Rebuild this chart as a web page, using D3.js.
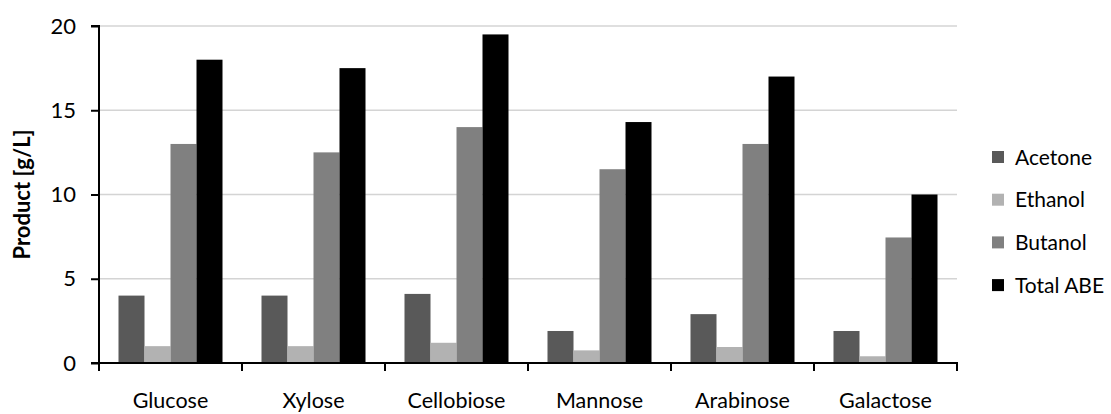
<!DOCTYPE html>
<html>
<head>
<meta charset="utf-8">
<script src="https://cdn.jsdelivr.net/npm/d3@7"></script>
<style>
  html, body { margin: 0; padding: 0; background: #fff; }
  svg { display: block; font-family: Lato, "Open Sans", sans-serif; }
</style>
</head>
<body>
<svg id="chart" width="1111" height="414"></svg>
<script>
const categories = ["Glucose", "Xylose", "Cellobiose", "Mannose", "Arabinose", "Galactose"];
const seriesNames = ["Acetone", "Ethanol", "Butanol", "Total ABE"];
const acetone = [4, 4, 4.1, 1.9, 2.9, 1.9];
const ethanol = [1, 1, 1.2, 0.75, 0.95, 0.4];
const butanol = [13, 12.5, 14, 11.5, 13, 7.45];
const totalABE = [18, 17.5, 19.5, 14.3, 17, 10];
const yTicks = [0, 5, 10, 15, 20];
const colors = ["#595959", "#b2b2b2", "#808080", "#000000"];

const seriesValues = [acetone, ethanol, butanol, totalABE];

const svg = d3.select("#chart");
const pLeft = 99, pRight = 957, pTop = 26, pBottom = 363;

const x0 = d3.scaleBand().domain(categories).range([pLeft, pRight]).paddingInner(0).paddingOuter(0);
const x1 = d3.scaleBand().domain(seriesNames).range([0, x0.bandwidth()]).paddingInner(0).paddingOuter(0.75);
const y = d3.scaleLinear().domain([0, 20]).range([pBottom, pTop]);
const color = d3.scaleOrdinal().domain(seriesNames).range(colors);

// gridlines
svg.append("g")
  .selectAll("line")
  .data(yTicks.filter(d => d > 0))
  .join("line")
  .attr("x1", pLeft).attr("x2", pRight)
  .attr("y1", d => y(d)).attr("y2", d => y(d))
  .attr("stroke", "#d4d4d4").attr("stroke-width", 1.5);

// bars
const rows = categories.map((c, i) => ({ cat: c, vals: seriesNames.map((s, j) => ({ s, v: seriesValues[j][i] })) }));
svg.append("g")
  .selectAll("g")
  .data(rows)
  .join("g")
  .attr("transform", d => `translate(${x0(d.cat)},0)`)
  .selectAll("rect")
  .data(d => d.vals)
  .join("rect")
  .attr("x", d => x1(d.s))
  .attr("width", x1.bandwidth())
  .attr("y", d => y(d.v))
  .attr("height", d => y(0) - y(d.v))
  .attr("fill", d => color(d.s));

// y axis
const yAxis = d3.axisLeft(y).tickValues(yTicks).tickSize(8).tickPadding(15).tickFormat(d3.format("d"));
const gy = svg.append("g").attr("transform", `translate(${pLeft},0)`).call(yAxis);
gy.select(".domain").attr("stroke", "#000").attr("stroke-width", 2).attr("d", `M-8,${pTop}H0V${pBottom}`);
gy.selectAll(".tick line").attr("stroke", "#000").attr("stroke-width", 2);
gy.selectAll(".tick text").attr("font-size", 22).attr("fill", "#000").attr("font-family", "Lato, sans-serif");

// x axis
const gx = svg.append("g").attr("transform", `translate(0,${pBottom})`);
gx.append("line").attr("x1", pLeft - 8).attr("x2", pRight + 1).attr("y1", 0).attr("y2", 0)
  .attr("stroke", "#000").attr("stroke-width", 2);
const bounds = categories.map(c => x0(c)).concat([x0(categories[categories.length - 1]) + x0.bandwidth()]);
gx.selectAll("line.tk").data(bounds).join("line").attr("class", "tk")
  .attr("x1", d => d).attr("x2", d => d).attr("y1", 0).attr("y2", 8)
  .attr("stroke", "#000").attr("stroke-width", 2);
gx.selectAll("text").data(categories).join("text")
  .attr("x", d => x0(d) + x0.bandwidth() / 2)
  .attr("y", 45)
  .attr("text-anchor", "middle")
  .attr("font-size", 21.5)
  .attr("fill", "#000")
  .text(d => d);

// y title
svg.append("text")
  .attr("transform", `translate(30,${(pTop + pBottom) / 2}) rotate(-90)`)
  .attr("text-anchor", "middle")
  .attr("font-size", 22)
  .attr("font-weight", "bold")
  .attr("fill", "#000")
  .text("Product [g/L]");

// legend
const legend = svg.append("g");
const lg = legend.selectAll("g").data(seriesNames).join("g")
  .attr("transform", (d, i) => `translate(992,${157 + i * 42.7})`);
lg.append("rect").attr("x", 0).attr("y", -6).attr("width", 12).attr("height", 12).attr("fill", d => color(d));
lg.append("text").attr("x", 23).attr("y", 0).attr("dy", "0.36em").attr("font-size", 21).attr("fill", "#000").text(d => d);
</script>
</body>
</html>
